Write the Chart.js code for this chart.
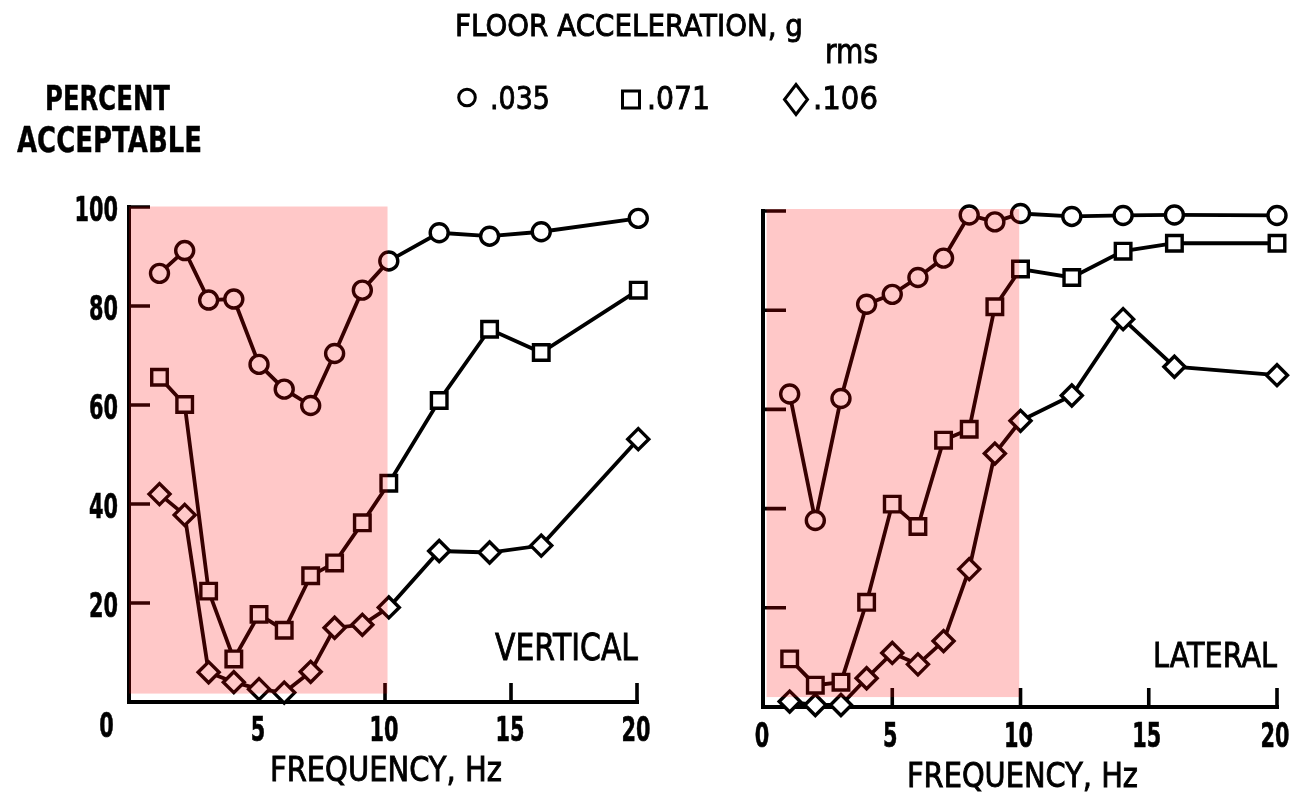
<!DOCTYPE html>
<html><head><meta charset="utf-8">
<script src="https://cdn.jsdelivr.net/npm/chart.js@4/dist/chart.umd.min.js"></script>
<style>
html,body{margin:0;padding:0;background:#fff;}
body{width:1296px;height:798px;position:relative;overflow:hidden;}
canvas{position:absolute;top:0;}
.t{position:absolute;white-space:nowrap;font-family:"DejaVu Sans",sans-serif;color:#000;transform-origin:0 0;-webkit-text-stroke:0.9px #000;}
.t.b{-webkit-text-stroke:0.4px #000;}
</style></head><body>
<canvas id="cL" width="680" height="798" style="left:0px"></canvas>
<canvas id="cR" width="616" height="798" style="left:680px"></canvas>
<svg width="1296" height="140" style="position:absolute;left:0;top:0" fill="none" stroke="#000" stroke-width="3">
  <circle cx="467" cy="97.5" r="8.3"/>
  <rect x="622.5" y="91" width="17" height="17"/>
  <polygon points="796,84.5 807.5,99.5 796,114.5 784.5,99.5"/>
</svg>
<script>
// ---- data ----
const accelLabels = ['.035', '.071', '.106'];           // floor acceleration, g rms
const freqVertical = [1.05, 2.05, 3.0, 4.0, 5.0, 6.0, 7.05, 8.0, 9.1, 10.15, 12.15, 14.15, 16.2, 20.05];
const vertical035 = [86.6, 91.2, 81.2, 81.4, 68.2, 63.2, 59.9, 70.4, 83.2, 89.1, 94.8, 94.1, 95.0, 97.7];
const vertical071 = [65.6, 60.1, 22.4, 8.7, 17.7, 14.5, 25.5, 28.1, 36.2, 44.2, 60.9, 75.3, 70.6, 83.2];
const vertical106 = [42.0, 37.8, 6.0, 4.0, 2.6, 1.9, 6.1, 15.0, 15.6, 19.1, 30.5, 30.2, 31.6, 53.1];
const freqLateral = [1, 2, 3, 4, 5, 6, 7, 8, 9, 10, 12, 14, 16, 20];
const lateral035 = [63.1, 37.6, 62.2, 81.2, 83.2, 86.6, 90.5, 99.2, 97.8, 99.5, 98.9, 99.1, 99.2, 99.1];
const lateral071 = [9.7, 4.4, 5.0, 21.1, 40.9, 36.4, 53.8, 56.0, 80.7, 88.3, 86.6, 91.9, 93.5, 93.5];
const lateral106 = [1.1, 0.4, 0.4, 5.8, 10.9, 8.6, 13.3, 27.8, 51.1, 57.7, 62.8, 78.2, 68.6, 66.9];
const xRangeVertical = [-0.16, 20];
const xRangeLateral = [-0.04, 20];
const yRange = [0, 100];
const xTickStep = 5;
const yTickStep = 20;
const shadeVerticalHz = [-0.16, 10.1], shadeVerticalPct = [1.7, 100.1];
const shadeLateralHz = [0.1, 9.95], shadeLateralPct = [2.0, 100.4];

// ---- styles ----
const markerStyles = ['circle', 'rect', 'rectRot'];
const markerRadii = [9, 11, 10.5];
const labelFamily = '"DejaVu Sans", sans-serif';
const digitW = 14.5;   // rendered width per character of tick labels

function condensedText(ctx, txt, x, baseline, size, align) {
  ctx.font = 'bold ' + size + 'px ' + labelFamily;
  const w = ctx.measureText(txt).width;
  const target = digitW * txt.length;
  const sx = target / w;
  let left = x;
  if (align === 'center') left = x - target / 2;
  else if (align === 'right') left = x - target;
  ctx.save();
  ctx.translate(left, baseline);
  ctx.scale(sx, 1);
  ctx.textAlign = 'left';
  ctx.textBaseline = 'alphabetic';
  ctx.lineWidth = 0.6; ctx.strokeStyle = '#000';
  ctx.fillText(txt, 0, 0);
  ctx.strokeText(txt, 0, 0);
  ctx.restore();
}

const axisDeco = {
  id: 'axisDeco',
  beforeDatasetsDraw(chart, args, o) {
    const {ctx, chartArea: a, scales: {x, y}} = chart;
    ctx.save();
    ctx.strokeStyle = '#000'; ctx.lineWidth = 3.6; ctx.lineCap = 'butt';
    ctx.beginPath();
    y.ticks.forEach(t => { if (t.value > 0) { const p = y.getPixelForValue(t.value); ctx.moveTo(a.left, p); ctx.lineTo(a.left + o.yLen, p); } });
    x.ticks.forEach(t => { if (t.value > 0) { const p = x.getPixelForValue(t.value); ctx.moveTo(p, a.bottom); ctx.lineTo(p, a.bottom - o.xLen); } });
    ctx.stroke();
    ctx.fillStyle = '#000';
    // x tick labels
    x.ticks.forEach(t => {
      const txt = String(t.value);
      if (t.value === 0 && o.cornerZero) return;
      condensedText(ctx, txt, x.getPixelForValue(t.value) + o.xLabelDx, a.bottom + o.xLabelDy + 12, 33, 'center');
    });
    if (o.cornerZero) condensedText(ctx, '0', a.left - 22.5, a.bottom + o.xLabelDy + 8, 34, 'center');
    // y tick labels
    if (o.yLabels) {
      y.ticks.forEach(t => {
        if (t.value <= 0) return;
        condensedText(ctx, String(t.value), a.left - 11, y.getPixelForValue(t.value) + 13.5, 34, 'right');
      });
    }
    ctx.restore();
  }
};
const shade = {
  id: 'shade',
  afterDatasetsDraw(chart, args, o) {
    const {ctx, scales: {x, y}} = chart;
    const x1 = x.getPixelForValue(o.hz[0]), x2 = x.getPixelForValue(o.hz[1]);
    const y1 = y.getPixelForValue(o.pct[1]), y2 = y.getPixelForValue(o.pct[0]);
    ctx.save();
    ctx.fillStyle = 'rgba(255,0,0,0.215)';
    ctx.fillRect(x1, y1, x2 - x1, y2 - y1);
    ctx.restore();
  }
};

function build(id, cfg) {
  const datasets = cfg.series.map((vals, i) => ({
    label: accelLabels[i],
    data: cfg.freq.map((f, j) => ({x: f, y: vals[j]})),
    borderColor: '#000', borderWidth: 3.8,
    pointStyle: markerStyles[i], pointRadius: markerRadii[i], pointHoverRadius: markerRadii[i],
    pointBorderWidth: 3.4, pointBackgroundColor: '#fff', pointBorderColor: '#000',
    tension: 0, fill: false, clip: false
  }));
  const axisCommon = {
    grid: {drawOnChartArea: false, drawTicks: false, lineWidth: 4, color: '#000'},
    border: {display: true, width: 4, color: '#000'}
  };
  return new Chart(document.getElementById(id), {
    type: 'line',
    data: {datasets},
    plugins: [axisDeco, shade],
    options: {
      responsive: false, animation: false, devicePixelRatio: 1,
      layout: {padding: cfg.pad},
      plugins: {
        legend: {display: false}, tooltip: {enabled: false},
        axisDeco: {xLen: 19, yLen: cfg.yLen, cornerZero: cfg.cornerZero, yLabels: cfg.yLabels,
                   xLabelDy: cfg.xLabelDy, xLabelDx: cfg.xLabelDx},
        shade: {hz: cfg.shadeHz, pct: cfg.shadePct}
      },
      scales: {
        x: Object.assign({
          type: 'linear', min: cfg.xRange[0], max: cfg.xRange[1],
          afterFit: s => { s.height = 60; },
          ticks: {stepSize: xTickStep, includeBounds: false, autoSkip: false, maxRotation: 0, display: false}
        }, axisCommon),
        y: Object.assign({
          type: 'linear', min: yRange[0], max: yRange[1],
          afterFit: s => { s.width = cfg.yW; },
          ticks: {stepSize: yTickStep, display: false}
        }, axisCommon)
      }
    }
  });
}

build('cL', {
  freq: freqVertical, series: [vertical035, vertical071, vertical106],
  xRange: xRangeVertical, shadeHz: shadeVerticalHz, shadePct: shadeVerticalPct,
  pad: {left: 69, right: 43, top: 207, bottom: 36}, yW: 60, yLabels: true, yLen: 21,
  xLabelDy: 27, xLabelDx: -1, cornerZero: true
});
build('cR', {
  freq: freqLateral, series: [lateral035, lateral071, lateral106],
  xRange: xRangeLateral, shadeHz: shadeLateralHz, shadePct: shadeLateralPct,
  pad: {left: 63, right: 19, top: 211, bottom: 31}, yW: 20, yLabels: false, yLen: 23,
  xLabelDy: 28, xLabelDx: -2, cornerZero: false
});

// ---- text (real HTML text) ----
const texts = [
  {text: 'FLOOR ACCELERATION, g', x: 455, capTop: 15, capH: 22, w: 348},
  {text: 'rms', x: 825, baseline: 63, F: 33, w: 53},
  {text: accelLabels[0], x: 490, capTop: 87, capH: 23, w: 60},
  {text: accelLabels[1], x: 647, capTop: 87, capH: 23, w: 63},
  {text: accelLabels[2], x: 813, capTop: 87, capH: 23, w: 65},
  {text: 'PERCENT', x: 45, capTop: 85, capH: 25, w: 125, bold: true},
  {text: 'ACCEPTABLE', x: 17, capTop: 126, capH: 26, w: 185, bold: true},
  {text: 'FREQUENCY, Hz', x: 270, capTop: 758, capH: 24, w: 232},
  {text: 'FREQUENCY, Hz', x: 907, capTop: 764, capH: 24, w: 231},
  {text: 'VERTICAL', x: 495, capTop: 633, capH: 27, w: 143},
  {text: 'LATERAL', x: 1153, capTop: 642, capH: 25, w: 124}
];
texts.forEach(t => {
  const el = document.createElement('div');
  el.className = 't' + (t.bold ? ' b' : '');
  el.textContent = t.text;
  const F = t.F || t.capH / 0.729;
  const base = t.baseline || (t.capTop + t.capH);
  el.style.fontSize = F + 'px';
  el.style.lineHeight = F + 'px';
  el.style.fontWeight = t.bold ? 'bold' : 'normal';
  el.style.left = t.x + 'px';
  el.style.top = (base - 0.846 * F) + 'px';
  document.body.appendChild(el);
  const nat = el.getBoundingClientRect().width;
  el.style.transform = 'scaleX(' + (t.w / nat) + ')';
});
</script>
</body></html>
